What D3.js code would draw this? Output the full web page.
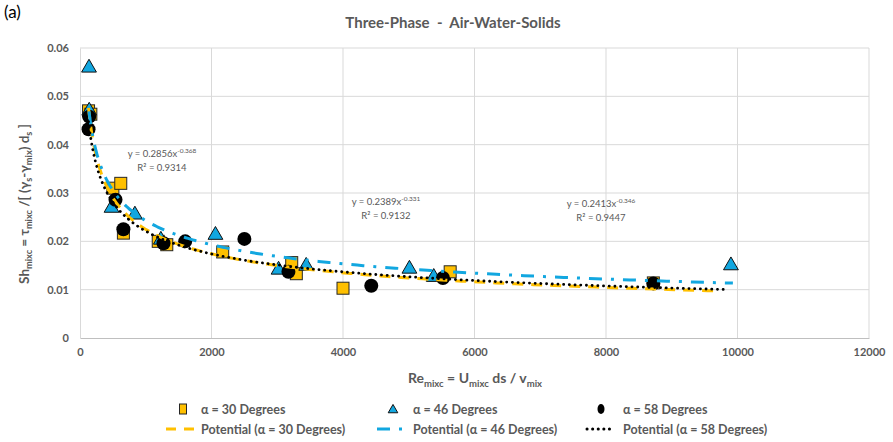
<!DOCTYPE html>
<html>
<head>
<meta charset="utf-8">
<script src="https://cdn.jsdelivr.net/npm/d3@7"></script>
<style>
  html, body { margin: 0; padding: 0; background: #fff; }
  svg { display: block; font-family: Lato, "Open Sans", sans-serif; }
  text { white-space: pre; }
</style>
</head>
<body>
<svg id="chart" width="893" height="442"></svg>
<script>
// --- data ---
const xTicks = [0, 2000, 4000, 6000, 8000, 10000, 12000];
const yTicks = [0, 0.01, 0.02, 0.03, 0.04, 0.05, 0.06];

const re30 = [130, 165, 500, 620, 660, 1190, 1320, 2170, 3220, 3290, 4000, 5630, 8720];
const sh30 = [0.0470, 0.0463, 0.0310, 0.0320, 0.0217, 0.0200, 0.0193, 0.0178, 0.0156, 0.0133, 0.0103, 0.0137, 0.0114];

const re46 = [137, 140, 480, 835, 1230, 2060, 3020, 3440, 5010, 5380, 9900];
const sh46 = [0.0559, 0.0470, 0.0269, 0.0255, 0.0203, 0.0213, 0.0141, 0.0149, 0.0143, 0.0126, 0.0150];

const re58 = [130, 140, 540, 660, 1270, 1600, 2500, 3170, 4430, 5520, 8720];
const sh58 = [0.0432, 0.0458, 0.0286, 0.0225, 0.0196, 0.0200, 0.0205, 0.0137, 0.0108, 0.0124, 0.0113];

// power trendlines y = a x^b as shown on the chart
const fitA = [0.2856, 0.2389, 0.2413];
const fitB = [-0.368, -0.331, -0.346];
const fitR2 = ["0.9314", "0.9132", "0.9447"];
const fitMin = [130, 137, 130];
const fitMax = [9750, 9930, 9830];

const seriesNames = ["α = 30 Degrees", "α = 46 Degrees", "α = 58 Degrees"];

// --- layout ---
const svg = d3.select("#chart");
const plot = { left: 80, right: 869, top: 48, bottom: 338 };
const grey = "#595959";
const orange = "#FFC000";
const blue = "#12A7E0";

const x = d3.scaleLinear().domain([0, 12000]).range([plot.left, plot.right]);
const y = d3.scaleLinear().domain([0, 0.06]).range([plot.bottom, plot.top]);

// gridlines
svg.append("g").selectAll("line.h").data(yTicks.slice(1)).join("line")
  .attr("x1", plot.left).attr("x2", plot.right)
  .attr("y1", d => y(d)).attr("y2", d => y(d))
  .attr("stroke", "#D9D9D9").attr("stroke-width", 1);
svg.append("g").selectAll("line.v").data(xTicks.slice(1)).join("line")
  .attr("y1", plot.top).attr("y2", plot.bottom)
  .attr("x1", d => x(d)).attr("x2", d => x(d))
  .attr("stroke", "#D9D9D9").attr("stroke-width", 1);

// axes
const xAxis = svg.append("g").attr("transform", `translate(0,${plot.bottom})`)
  .call(d3.axisBottom(x).tickValues(xTicks).tickSize(0).tickPadding(10).tickFormat(d3.format("d")));
const yAxis = svg.append("g").attr("transform", `translate(${plot.left},0)`)
  .call(d3.axisLeft(y).tickValues(yTicks).tickSize(0).tickPadding(11)
    .tickFormat(d => d === 0 ? "0" : d3.format(".2f")(d)));
[xAxis, yAxis].forEach(g => {
  g.select(".domain").attr("stroke", "#BFBFBF");
  g.selectAll("text").attr("fill", grey).attr("font-size", 11).attr("font-weight", "bold")
    .attr("font-family", "Lato, sans-serif");
});
yAxis.select(".domain").attr("stroke", "#D9D9D9");

// markers
const sq = 12;
function square(g, xs, ys, s) {
  g.selectAll("rect").data(xs).join("rect")
    .attr("x", (d, i) => x(d) - s / 2).attr("y", (d, i) => y(ys[i]) - s / 2)
    .attr("width", s).attr("height", s)
    .attr("fill", orange).attr("stroke", "#262626").attr("stroke-width", 1);
}
function triangle(g, xs, ys, s) {
  const sym = d3.symbol().type(d3.symbolTriangle).size(s);
  g.selectAll("path").data(xs).join("path")
    .attr("d", sym)
    .attr("transform", (d, i) => `translate(${x(d)},${y(ys[i])})`)
    .attr("fill", blue).attr("stroke", "#111").attr("stroke-width", 1);
}
function circles(g, xs, ys, r) {
  g.selectAll("circle").data(xs).join("circle")
    .attr("cx", d => x(d)).attr("cy", (d, i) => y(ys[i])).attr("r", r)
    .attr("fill", "#000");
}
square(svg.append("g"), re30, sh30, sq);
triangle(svg.append("g"), re46, sh46, 95);
circles(svg.append("g"), re58, sh58, 7);

// trendlines
const lineStyles = [
  { color: orange, dash: "11,8", cap: "butt" },
  { color: blue, dash: "13,9,3,9", cap: "butt" },
  { color: "#000", dash: "0.1,5.6", cap: "round" }
];
const line = d3.line().x(d => x(d[0])).y(d => y(d[1]));
[0, 1, 2].forEach(k => {
  const n = 200;
  const lo = Math.log(fitMin[k]), hi = Math.log(fitMax[k]);
  const pts = d3.range(n + 1).map(i => {
    const xv = Math.exp(lo + (hi - lo) * i / n);
    return [xv, fitA[k] * Math.pow(xv, fitB[k])];
  });
  svg.append("path").datum(pts).attr("d", line)
    .attr("fill", "none").attr("stroke", lineStyles[k].color)
    .attr("stroke-width", k === 2 ? 2.8 : 3)
    .attr("stroke-dasharray", lineStyles[k].dash)
    .attr("stroke-linecap", lineStyles[k].cap);
});

// trendline labels
const eqPos = [[162, 157], [386, 205], [601, 207]];
[0, 1, 2].forEach(k => {
  const t = svg.append("text").attr("x", eqPos[k][0]).attr("y", eqPos[k][1])
    .attr("text-anchor", "middle").attr("fill", grey).attr("font-size", 9.5);
  t.append("tspan").text(`y = ${fitA[k]}x`);
  t.append("tspan").attr("dy", -4).attr("font-size", 6.5).text(fitB[k]);
  svg.append("text").attr("x", eqPos[k][0]).attr("y", eqPos[k][1] + 14)
    .attr("text-anchor", "middle").attr("fill", grey).attr("font-size", 9.5)
    .text(`R² = ${fitR2[k]}`);
});

// title and panel label
svg.append("text").attr("x", 4).attr("y", 18).attr("font-size", 17)
  .attr("font-family", "Lato, sans-serif").attr("fill", "#000").text("(a)");
svg.append("text").attr("x", 453).attr("y", 28).attr("text-anchor", "middle")
  .attr("font-size", 15).attr("font-weight", "bold").attr("fill", grey)
  .text("Three-Phase  -  Air-Water-Solids");

// rich text with subscripts: parts of [text, isSub]
function richFix(t, parts, size) {
  let shifted = false;
  parts.forEach(([s, sub]) => {
    const sp = t.append("tspan").text(s);
    if (sub && !shifted) { sp.attr("font-size", size * 0.68).attr("dy", size * 0.25); shifted = true; }
    else if (sub) sp.attr("font-size", size * 0.68);
    else if (shifted) { sp.attr("dy", -size * 0.25); shifted = false; }
  });
}

const xt = svg.append("text").attr("x", 475).attr("y", 383).attr("text-anchor", "middle")
  .attr("font-size", 14).attr("font-weight", "bold").attr("fill", grey);
richFix(xt, [["Re", 0], ["mixc", 1], [" = U", 0], ["mixc", 1], [" ds / v", 0], ["mix", 1]], 14);

const yt = svg.append("text").attr("transform", "translate(29,204) rotate(-90)")
  .attr("text-anchor", "middle").attr("font-size", 13.5).attr("font-weight", "bold").attr("fill", grey);
richFix(yt, [["Sh", 0], ["mixc", 1], [" = τ", 0], ["mixc", 1], [" /[ (γ", 0], ["s", 1], ["-γ", 0], ["mix", 1], [") d", 0], ["s", 1], [" ]", 0]], 13.5);

// legend
const lg = svg.append("g").attr("font-size", 12.5).attr("font-weight", "bold").attr("fill", grey);
const row1 = 409, row2 = 429;
const mX = [183, 393, 601], lX = [201, 413, 623];
lg.append("rect").attr("x", mX[0] - 3.5).attr("y", row1 - 5).attr("width", 7).attr("height", 10)
  .attr("fill", orange).attr("stroke", "#262626");
lg.append("path").attr("d", d3.symbol().type(d3.symbolTriangle).size(40))
  .attr("transform", `translate(${mX[1]},${row1 + 1})`).attr("fill", blue).attr("stroke", "#111");
lg.append("ellipse").attr("cx", mX[2]).attr("cy", row1).attr("rx", 3.5).attr("ry", 5).attr("fill", "#000");
seriesNames.forEach((s, i) => {
  lg.append("text").attr("x", lX[i]).attr("y", row1 + 4.5).text(s);
  lg.append("text").attr("x", lX[i]).attr("y", row2 + 4.5).text(`Potential (${s})`);
});
const sw = [[166, 198], [377, 403], [587, 614]];
[0, 1, 2].forEach(k => {
  lg.append("line").attr("x1", sw[k][0]).attr("x2", sw[k][1]).attr("y1", row2).attr("y2", row2)
    .attr("stroke", lineStyles[k].color).attr("stroke-width", 3)
    .attr("stroke-dasharray", k === 0 ? "10,8" : k === 1 ? "13,9,3,9" : "0.1,5.5")
    .attr("stroke-linecap", lineStyles[k].cap);
});
</script>
</body>
</html>
